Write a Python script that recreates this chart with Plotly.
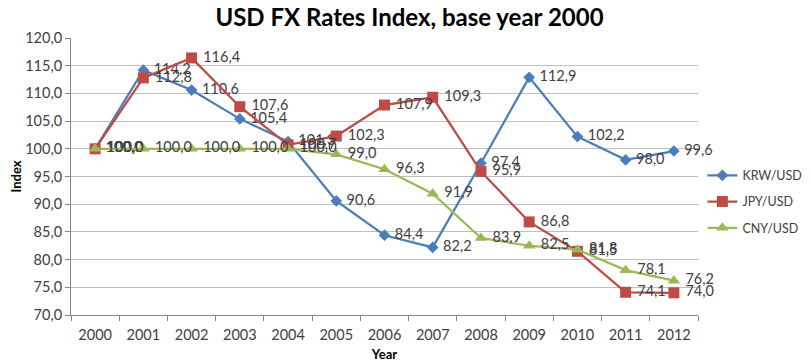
import plotly.graph_objects as go

years = ["2000", "2001", "2002", "2003", "2004", "2005", "2006",
         "2007", "2008", "2009", "2010", "2011", "2012"]
krw = [100.0, 114.2, 110.6, 105.4, 101.3, 90.6, 84.4, 82.2, 97.4, 112.9, 102.2, 98.0, 99.6]
jpy = [100.0, 112.8, 116.4, 107.6, 100.7, 102.3, 107.9, 109.3, 95.9, 86.8, 81.5, 74.1, 74.0]
cny = [100.0, 100.0, 100.0, 100.0, 100.0, 99.0, 96.3, 91.9, 83.9, 82.5, 81.8, 78.1, 76.2]
y_ticks = [70, 75, 80, 85, 90, 95, 100, 105, 110, 115, 120]

series = [
    ("KRW/USD", krw, "#4A7EBB", "diamond", 9),
    ("JPY/USD", jpy, "#BE4B48", "square", 11),
    ("CNY/USD", cny, "#98B954", "triangle-up", 11),
]

FONT = "Lato, Open Sans, sans-serif"

fig = go.Figure()
for name, vals, col, sym, sz in series:
    fig.add_trace(go.Scatter(
        x=years, y=vals, name=name, legendgroup=name,
        mode="lines+markers+text",
        line=dict(color=col, width=2.25),
        marker=dict(symbol=sym, size=sz, color=col),
        text=vals, texttemplate=" %{y:.1f}", textposition="middle right",
        textfont=dict(family=FONT, size=14.5, color="#404040"),
        cliponaxis=False,
    ))

fig.update_layout(
    width=803, height=354,
    paper_bgcolor="white", plot_bgcolor="white",
    separators=",.",
    margin=dict(l=63, r=113, t=30, b=47, autoexpand=False),
    title=dict(text="<b>USD FX Rates Index, base year 2000</b>",
               x=0.5, xanchor="center", y=0.972, yanchor="middle",
               font=dict(family=FONT, size=24, color="#000000")),
    font=dict(family=FONT, size=14.5, color="#404040"),
    legend=dict(x=1.007, xanchor="left", y=0.409, yanchor="middle",
                traceorder="grouped", tracegroupgap=7,
                font=dict(size=12.5, color="#404040"),
                bgcolor="rgba(0,0,0,0)"),
    xaxis=dict(type="category", range=[-0.5, 12.5], tickson="boundaries",
               ticks="outside", ticklen=5, tickcolor="#868686",
               ticklabelstandoff=7,
               showline=True, linecolor="#868686", linewidth=1, showgrid=False,
               title=dict(text="<b>Year</b>", font=dict(size=13, color="#000000"), standoff=10),
               tickfont=dict(size=14.5, color="#404040")),
    yaxis=dict(range=[70, 120], tickvals=y_ticks, tickformat=".1f",
               ticks="outside", ticklen=5, tickcolor="#868686",
               showline=True, linecolor="#868686", linewidth=1,
               showgrid=True, gridcolor="#BFBFBF", gridwidth=1, zeroline=False,
               title=dict(text="<b>Index</b>", font=dict(size=13, color="#000000"), standoff=5),
               tickfont=dict(size=14.5, color="#404040")),
)

fig.write_html("out.html")
